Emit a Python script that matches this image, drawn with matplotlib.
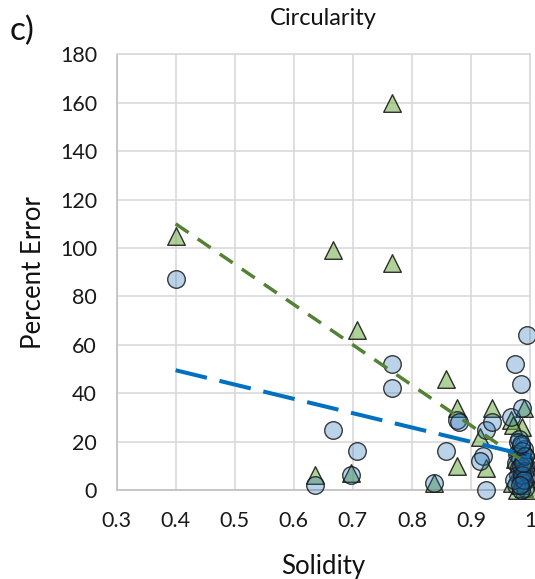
import matplotlib.pyplot as plt

plt.rcParams['font.family'] = ['Lato', 'DejaVu Sans']

# circles (blue series)
circ_x = [0.40, 0.767, 0.767, 0.667, 0.707, 0.697, 0.636, 0.837, 0.857, 0.877, 0.879,
          0.921, 0.916, 0.925, 0.936, 0.925, 0.967, 0.975, 0.984, 0.995, 0.987,
          0.98, 0.985, 0.99, 0.978, 0.992, 0.983, 0.988, 0.976, 0.994, 0.981,
          0.986, 0.99, 0.979, 0.993, 0.984, 0.988, 0.977, 0.991, 0.985, 0.982, 0.973,
          0.987, 0.99, 0.984, 0.992, 0.986, 0.989, 0.983, 0.991, 0.988, 0.985]
circ_y = [87, 52, 42, 25, 16, 6, 2, 3, 16, 29, 28,
          14, 12, 25, 28, 0, 30, 52, 44, 64, 34,
          20, 18, 17, 15, 14, 13, 12, 11, 10, 9,
          8, 7, 6, 5, 4, 3, 2, 1, 0, 21, 4,
          16, 12, 10, 8, 6, 4, 2, 14, 11, 19]

# triangles (green series)
tri_x = [0.40, 0.767, 0.767, 0.667, 0.707, 0.636, 0.697, 0.837, 0.857, 0.877, 0.877,
         0.916, 0.925, 0.936, 0.967, 0.987, 0.99, 0.975, 0.98, 0.985, 0.97,
         0.995, 0.978, 0.99, 1.0, 0.983, 0.972, 0.993]
tri_y = [105, 160, 94, 99, 66, 6, 7, 3, 46, 34, 10,
         22, 9, 34, 29, 26, 34, 13, 18, 8, 3,
         5, 0, 1, 0, 2, 27, 13]

# trend lines
trend_x = [0.4, 1.0]
green_trend = [110, 10]
blue_trend = [49.5, 14]

fig = plt.figure(figsize=(5.35, 5.79), dpi=100)
ax = fig.add_axes([0.2178, 0.1537, 0.7729, 0.7523])

ax.scatter(tri_x, tri_y, s=160, marker='^', facecolor=(0.44, 0.68, 0.28, 0.55),
           edgecolor=(0.1, 0.1, 0.1, 0.9), linewidth=1.0, clip_on=False, zorder=3)
ax.scatter(circ_x, circ_y, s=160, marker='o', facecolor=(0.12, 0.44, 0.70, 0.3),
           edgecolor=(0.1, 0.1, 0.1, 0.85), linewidth=1.0, clip_on=False, zorder=4)

ax.plot(trend_x, green_trend, color='#548235', lw=2.5, dashes=(4.5, 3.2), zorder=5)
ax.plot(trend_x, blue_trend, color='#0070C0', lw=2.9, dashes=(8, 3.2), zorder=5)

ax.set_xlim(0.3, 1.0)
ax.set_ylim(0, 180)
ax.set_xticks([0.3, 0.4, 0.5, 0.6, 0.7, 0.8, 0.9, 1.0])
ax.set_xticklabels(['0.3', '0.4', '0.5', '0.6', '0.7', '0.8', '0.9', '1'])
ax.set_yticks(range(0, 181, 20))
ax.grid(True, color='#D9D9D9', lw=1.2)
ax.set_axisbelow(True)
for sp in ax.spines.values():
    sp.set_color('#D9D9D9')
    sp.set_linewidth(1.2)
ax.spines['left'].set_color('#BFBFBF')
ax.spines['bottom'].set_color('#BFBFBF')
ax.tick_params(length=0, labelsize=15.5, colors='#1a1a1a')
ax.tick_params(axis='x', pad=15)
ax.tick_params(axis='y', pad=14)

ax.set_xlabel('Solidity', fontsize=18.5, labelpad=17, color='#111111')
ax.set_ylabel('Percent Error', fontsize=18.5, labelpad=10, color='#111111')
ax.set_title('Circularity', fontsize=17, pad=21, color='#111111')
fig.text(0.018, 0.93, 'c)', fontsize=24, color='#111111')

fig.savefig('out.png', dpi=100)
